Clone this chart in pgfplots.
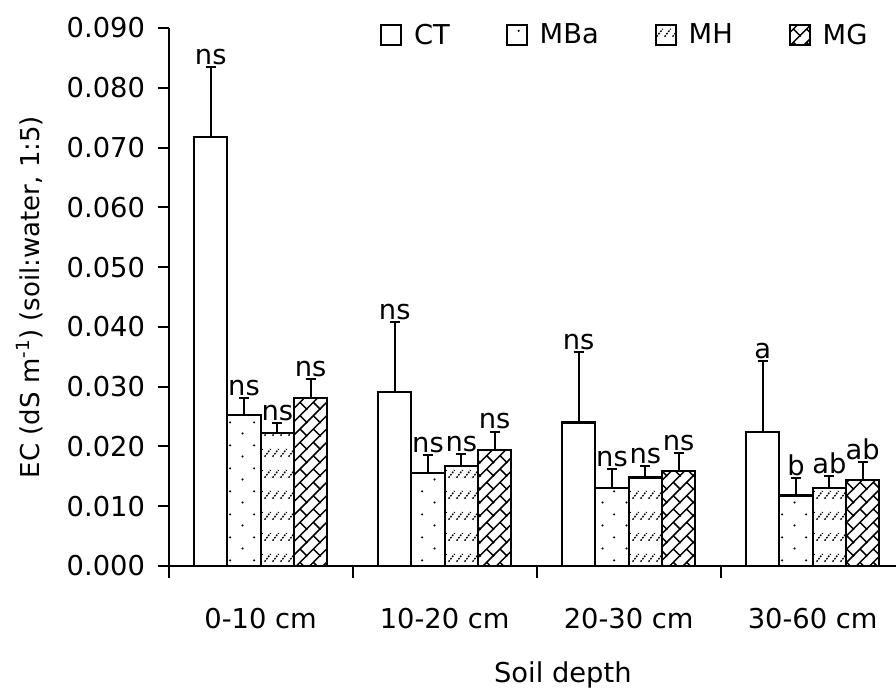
\documentclass[border=0pt]{standalone}
\usepackage{pgfplots}
\pgfplotsset{compat=1.18}
\usepackage{pgfplotstable}
\usepackage{fontspec}
\setmainfont{DejaVu Sans}
\usetikzlibrary{patterns}

% fill patterns for the mulch treatments
\pgfdeclarepatternformonly{sparsedots}{\pgfpointorigin}{\pgfpoint{18pt}{17.25pt}}{\pgfpoint{18pt}{17.25pt}}{%
  \pgfpathcircle{\pgfpoint{2pt}{2pt}}{0.9pt}%
  \pgfpathcircle{\pgfpoint{11pt}{10.6pt}}{0.9pt}%
  \pgfusepath{fill}}
\pgfdeclarepatternformonly{dashdiag}{\pgfpointorigin}{\pgfpoint{6pt}{15.75pt}}{\pgfpoint{6pt}{15.75pt}}{%
  \pgfsetlinewidth{1.1pt}%
  \pgfsetdash{{1.4pt}{1pt}}{0pt}%
  \pgfpathmoveto{\pgfpoint{0.5pt}{1pt}}%
  \pgfpathlineto{\pgfpoint{5.5pt}{7pt}}%
  \pgfusepath{stroke}}
\pgfdeclarepatternformonly{diagbrick}{\pgfpoint{-1pt}{-1pt}}{\pgfpoint{11pt}{11pt}}{\pgfpoint{10pt}{10pt}}{%
  \pgfsetlinewidth{1.1pt}%
  \pgfpathmoveto{\pgfpoint{-0.5pt}{-0.5pt}}%
  \pgfpathlineto{\pgfpoint{10.5pt}{10.5pt}}%
  \pgfpathmoveto{\pgfpoint{5pt}{5pt}}%
  \pgfpathlineto{\pgfpoint{10.5pt}{-0.5pt}}%
  \pgfusepath{stroke}}

\newcommand\chartfont{\fontsize{20.5pt}{24pt}\selectfont}
\newcommand\labelfont{\fontsize{19.5pt}{23pt}\selectfont}

% EC means, standard errors and letters per soil depth
\pgfplotstableread{
x y err lab
0 0.0717 0.0118 ns
1 0.0291 0.0117 ns
2 0.0240 0.0118 ns
3 0.0224 0.0119 a
}\ctdata
\pgfplotstableread{
x y err lab
0 0.0253 0.0028 ns
1 0.0155 0.0030 ns
2 0.0131 0.0031 ns
3 0.0118 0.0029 b
}\mbadata
\pgfplotstableread{
x y err lab
0 0.0222 0.0017 ns
1 0.0168 0.0019 ns
2 0.0148 0.0019 ns
3 0.0131 0.0019 ab
}\mhdata
\pgfplotstableread{
x y err lab
0 0.0281 0.0032 ns
1 0.0194 0.0031 ns
2 0.0159 0.0030 ns
3 0.0144 0.0030 ab
}\mgdata

\pgfplotsset{
  barstyle/.style={ybar, bar width=0.181, bar shift=0pt, draw=black, line width=1.6pt,
    error bars/y dir=plus, error bars/y explicit,
    error bars/error bar style={line width=1.5pt, black},
    error bars/error mark options={line width=1.5pt, mark size=3.75pt, black, rotate=90}},
  letters/.style={draw=none, mark=none, forget plot, nodes near coords,
    point meta=explicit symbolic,
    every node near coord/.style={anchor=south, inner sep=1.5pt, black, font=\chartfont}},
}

\begin{document}
\begin{tikzpicture}[font=\chartfont]
\begin{axis}[
  at={(0,0)}, anchor=south west,
  scale only axis, width=545.5pt, height=403.5pt,
  xmin=-0.5, xmax=3.453, ymin=0, ymax=0.09,
  axis x line*=bottom, axis y line*=left,
  axis line style={line width=1.5pt},
  tick align=outside,
  ytick={0,0.01,0.02,0.03,0.04,0.05,0.06,0.07,0.08,0.09},
  scaled y ticks=false,
  yticklabel style={xshift=-6pt, /pgf/number format/.cd, fixed, fixed zerofill, precision=3, assume math mode=true},
  major tick length=8.25pt, minor tick length=9pt,
  tick style={line width=1.5pt, black},
  xtick={0,1,2,3},
  xticklabels={0-10 cm,10-20 cm,20-30 cm,30-60 cm},
  major x tick style={draw=none},
  minor xtick={-0.5,0.5,1.5,2.5},
  xticklabel style={yshift=-20pt},
  xlabel={Soil depth},
  xlabel style={at={(axis description cs:0.542,-0.202)}, anchor=center},
  ylabel={EC (dS m\textsuperscript{-1}) (soil:water, 1:5)},
  ylabel style={at={(axis description cs:-0.1907,0.5)}, anchor=center, font=\labelfont},
  legend style={at={(rel axis cs:0.2905,0.987)}, anchor=west, draw=none, fill=none,
    legend columns=4, inner sep=0pt,
    /tikz/every odd column/.append style={column sep=7pt},
    /tikz/every even column/.append style={column sep=40pt}},
  legend cell align=left,
  legend image code/.code={\draw[#1, line width=1.4pt] (0pt,-7.5pt) rectangle (15pt,7.5pt);},
]
\addplot[barstyle, fill=white] table[x expr=\thisrow{x}-0.2715, y=y, y error=err]{\ctdata};
\addlegendentry{CT}
\addplot[barstyle, fill=white, postaction={pattern=sparsedots}] table[x expr=\thisrow{x}-0.0905, y=y, y error=err]{\mbadata};
\addlegendentry{MBa}
\addplot[barstyle, fill=white, postaction={pattern=dashdiag}] table[x expr=\thisrow{x}+0.0905, y=y, y error=err]{\mhdata};
\addlegendentry{MH}
\addplot[barstyle, fill=white, postaction={pattern=diagbrick}] table[x expr=\thisrow{x}+0.2715, y=y, y error=err]{\mgdata};
\addlegendentry{MG}

\addplot[letters] table[x expr=\thisrow{x}-0.2715, y expr=\thisrow{y}+\thisrow{err}, meta=lab]{\ctdata};
\addplot[letters] table[x expr=\thisrow{x}-0.0905, y expr=\thisrow{y}+\thisrow{err}, meta=lab]{\mbadata};
\addplot[letters] table[x expr=\thisrow{x}+0.0905, y expr=\thisrow{y}+\thisrow{err}, meta=lab]{\mhdata};
\addplot[letters] table[x expr=\thisrow{x}+0.2715, y expr=\thisrow{y}+\thisrow{err}, meta=lab]{\mgdata};
\end{axis}
\pgfresetboundingbox
\path (-126.5pt,-92.25pt) rectangle (545.5pt,424.5pt);
\end{tikzpicture}
\end{document}
